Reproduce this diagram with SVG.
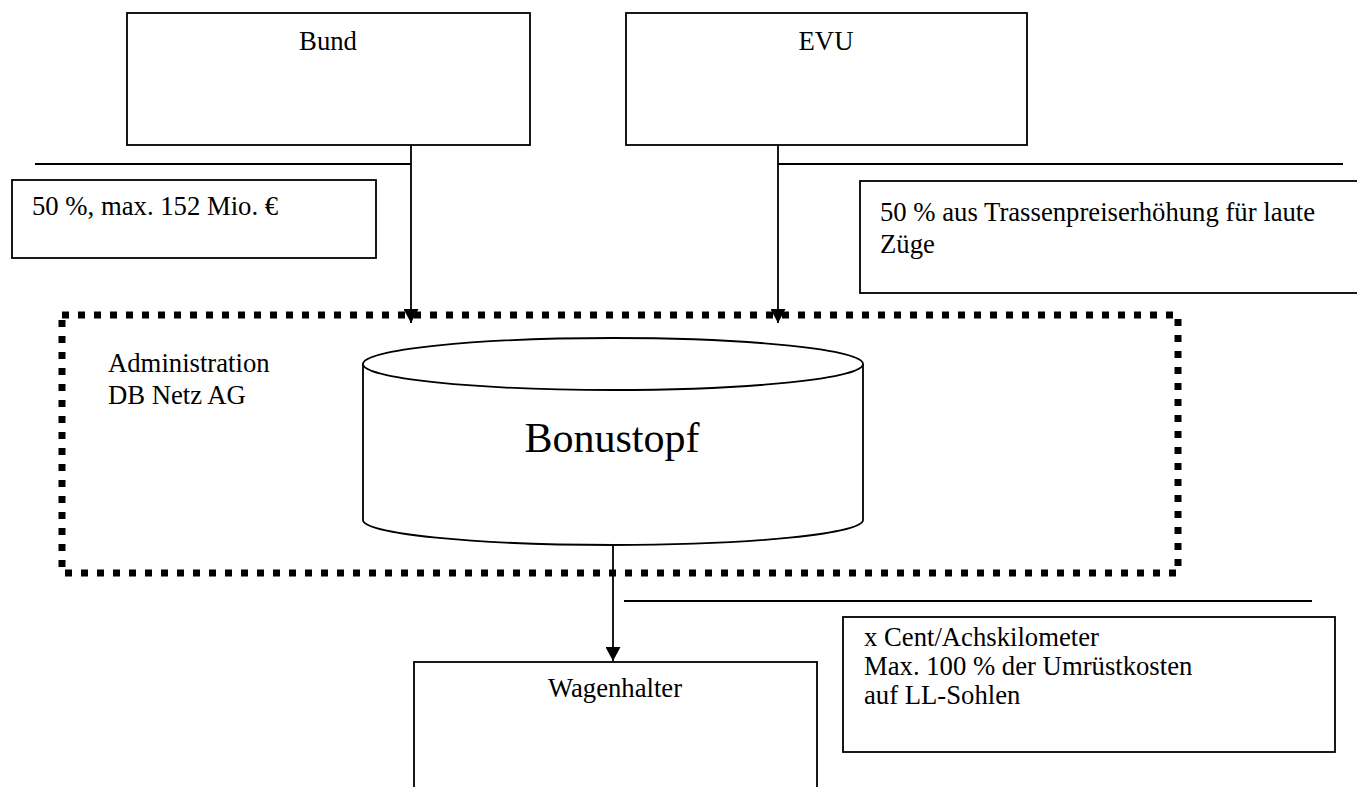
<svg xmlns="http://www.w3.org/2000/svg" width="1357" height="787" viewBox="0 0 1357 787">
<style>
  .box{fill:#fff;stroke:#000;stroke-width:1.8}
  .ln{fill:none;stroke:#000;stroke-width:1.8}
  .t{font-family:"Liberation Serif","Times New Roman",serif;font-size:26.7px;fill:#000}
  .c{text-anchor:middle}
  .dot{fill:none;stroke:#000;stroke-width:7;stroke-dasharray:7 9}
</style>
<defs>
  <marker id="arr" markerUnits="userSpaceOnUse" markerWidth="16" markerHeight="15" refX="14" refY="7.5" orient="auto">
    <path d="M0,0 L14,7.5 L0,15 Z" fill="#000"/>
  </marker>
</defs>
<rect width="1357" height="787" fill="#fff"/>
<g id="bund">
  <rect class="box" x="127" y="13" width="403" height="132"/>
  <text class="t c" x="328" y="50">Bund</text>
</g>
<g id="evu">
  <rect class="box" x="626" y="13" width="401" height="132"/>
  <text class="t c" x="826" y="50">EVU</text>
</g>
<g id="label-bund">
  <rect class="box" x="12" y="180" width="364" height="78"/>
  <text class="t" x="32" y="215">50 %, max. 152 Mio. €</text>
</g>
<g id="label-evu">
  <rect class="box" x="860" y="181" width="510" height="112"/>
  <text class="t" x="880" y="221">50 % aus Trassenpreiserhöhung für laute</text>
  <text class="t" x="880" y="253">Züge</text>
</g>
<g id="administration">
  <rect class="dot" x="62" y="315" width="1116" height="258"/>
  <text class="t" x="108" y="372">Administration</text>
  <text class="t" x="108" y="404">DB Netz AG</text>
</g>
<g id="bonustopf">
  <path class="box" d="M363,364 L363,520 A250,25 0 0 0 863,520 L863,364"/>
  <ellipse class="box" cx="613" cy="364" rx="250" ry="26"/>
  <text class="t c" x="612" y="452" style="font-size:42px">Bonustopf</text>
</g>
<g id="wagenhalter">
  <rect class="box" x="414" y="662" width="403" height="140"/>
  <text class="t c" x="615" y="697">Wagenhalter</text>
</g>
<g id="label-wagenhalter">
  <rect class="box" x="843" y="617" width="492" height="135"/>
  <text class="t" x="864" y="646">x Cent/Achskilometer</text>
  <text class="t" x="864" y="675">Max. 100 % der Umrüstkosten</text>
  <text class="t" x="864" y="704">auf LL-Sohlen</text>
</g>
<g id="connectors">
  <line class="ln" x1="35" y1="164" x2="411" y2="164"/>
  <line class="ln" x1="778" y1="164" x2="1343" y2="164"/>
  <line class="ln" x1="624" y1="601" x2="1312" y2="601"/>
  <line class="ln" x1="411" y1="145" x2="411" y2="323" marker-end="url(#arr)"/>
  <line class="ln" x1="778" y1="145" x2="778" y2="323" marker-end="url(#arr)"/>
  <line class="ln" x1="613" y1="545" x2="613" y2="661" marker-end="url(#arr)"/>
</g>
</svg>
